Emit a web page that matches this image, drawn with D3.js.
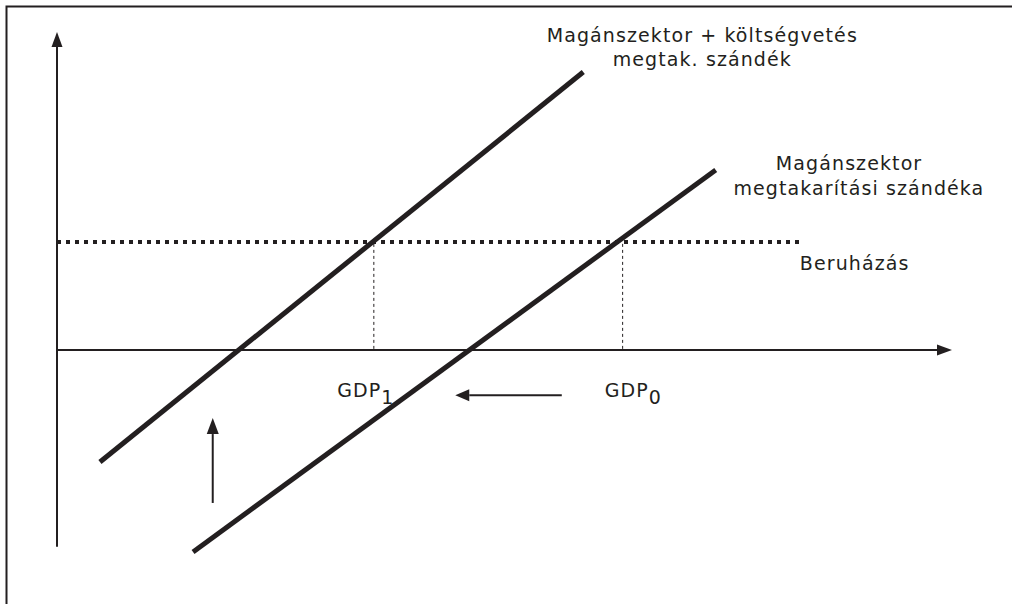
<!DOCTYPE html>
<html><head><meta charset="utf-8">
<script src="https://cdn.jsdelivr.net/npm/d3@7"></script>
<style>body{margin:0;background:#fff}svg{display:block}</style>
</head><body>
<script>
// Conceptual data (x: output, y: savings / investment)
const upperLine = [[4.8, -35.2], [58.8, 87.4]];   // Magánszektor + költségvetés megtak. szándék
const lowerLine = [[15.2, -63.5], [73.6, 56.6]];  // Magánszektor megtakarítási szándéka
const investment = 34.0;                          // Beruházás level
const investmentEnd = 83.0;
const gdpMarks = [{x: 35.4, labelX: 31.3, label: "GDP", sub: "1"}, {x: 63.2, labelX: 61.2, label: "GDP", sub: "0"}];
const shiftLeft = {from: 56.4, to: 44.5, y: -14.2};
const shiftUp = {x: 17.4, from: -48.1, to: -21.4};
const yAxisRange = [-61.9, 100];
const xAxisEnd = 100;
const labelLines = [
  {text: "Magánszektor + költségvetés", x: 72.1, y: 96.9},
  {text: "megtak. szándék", x: 72.1, y: 89.2},
  {text: "Magánszektor", x: 88.5, y: 56.6},
  {text: "megtakarítási szándéka", x: 89.6, y: 48.7},
];
const investLabel = {text: "Beruházás", x: 83.0, y: 25.2};

const W = 1012, H = 604;
const svg = d3.select("body").append("svg").attr("width", W).attr("height", H);
const ink = "#231f20";
const font = "DejaVu Sans, Verdana, sans-serif";
const x = d3.scaleLinear().domain([0, 100]).range([57, 952]);
const y = d3.scaleLinear().domain([0, 100]).range([350, 32]);

svg.append("rect").attr("x", 6.5).attr("y", 6.5).attr("width", 1100).attr("height", 700)
  .attr("fill", "none").attr("stroke", ink).attr("stroke-width", 2);

function arrow(x1, y1, x2, y2, len, half, sw) {
  const a = Math.atan2(y2 - y1, x2 - x1);
  const bx = x2 - len * Math.cos(a), by = y2 - len * Math.sin(a);
  svg.append("line").attr("x1", x1).attr("y1", y1).attr("x2", bx).attr("y2", by)
    .attr("stroke", ink).attr("stroke-width", sw);
  const px = -Math.sin(a) * half, py = Math.cos(a) * half;
  svg.append("path").attr("d", `M${x2},${y2}L${bx + px},${by + py}L${bx - px},${by - py}Z`).attr("fill", ink);
}

function txt(px, py, anchor) {
  return svg.append("text").attr("x", px).attr("y", py).attr("text-anchor", anchor)
    .attr("font-family", font).attr("font-size", 19).attr("letter-spacing", 1.1).attr("fill", ink);
}

// axes
arrow(x(0), y(yAxisRange[0]), x(0), y(yAxisRange[1]), 15, 5.5, 2);
arrow(x(0), y(0), x(xAxisEnd), y(0), 15, 5.5, 2);

// investment dotted line
svg.append("line").attr("x1", x(0)).attr("x2", x(investmentEnd)).attr("y1", y(investment)).attr("y2", y(investment))
  .attr("stroke", ink).attr("stroke-width", 4).attr("stroke-dasharray", "4 5");

// GDP drop lines
gdpMarks.forEach(g => {
  svg.append("line").attr("x1", x(g.x)).attr("x2", x(g.x)).attr("y1", y(investment) + 2).attr("y2", y(0))
    .attr("stroke", ink).attr("stroke-width", 1).attr("stroke-dasharray", "3 3");
  const t = txt(x(g.labelX), 397, "start");
  t.append("tspan").text(g.label);
  t.append("tspan").attr("dy", 7).text(g.sub);
});

// saving lines
const lg = d3.line().x(d => x(d[0])).y(d => y(d[1]));
[upperLine, lowerLine].forEach(l => svg.append("path").attr("d", lg(l)).attr("fill", "none")
  .attr("stroke", ink).attr("stroke-width", 5));

// shift arrows
arrow(x(shiftLeft.from), y(shiftLeft.y), x(shiftLeft.to), y(shiftLeft.y), 14, 6, 2);
arrow(x(shiftUp.x), y(shiftUp.from), x(shiftUp.x), y(shiftUp.to), 16, 6, 2);

// labels
labelLines.forEach(L => txt(x(L.x), y(L.y), "middle").text(L.text));
txt(x(investLabel.x), y(investLabel.y), "start").text(investLabel.text);
</script>
</body></html>
